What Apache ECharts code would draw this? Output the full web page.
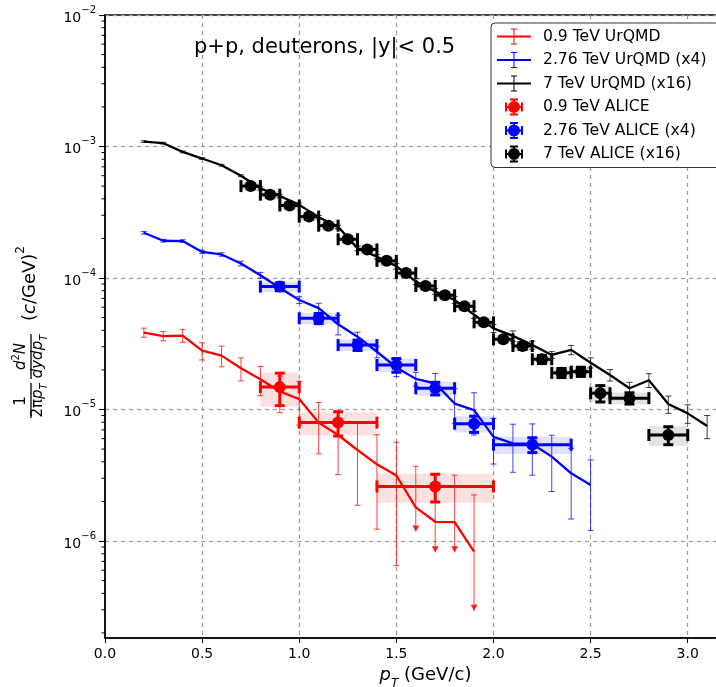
<!DOCTYPE html>
<html><head><meta charset="utf-8">
<script src="https://cdn.jsdelivr.net/npm/echarts@6/dist/echarts.min.js"></script>
<style>html,body{margin:0;padding:0;background:#fff}#c{width:716px;height:687px}</style>
</head><body><div id="c"></div><script>
const FONT = 'DejaVu Sans';

// ---------- UrQMD (0.9 TeV) ----------
const red_urqmd_x = [0.2,0.3,0.4,0.5,0.6,0.7,0.8,0.9,1.0,1.1,1.2,1.3,1.4,1.5,1.6,1.7,1.8,1.9];
const red_urqmd_y = [3.85e-5,3.62e-5,3.65e-5,2.8e-5,2.57e-5,2.06e-5,1.7e-5,1.37e-5,1.2e-5,7.95e-6,6.4e-6,4.92e-6,3.83e-6,3.15e-6,1.8e-6,1.4e-6,1.39e-6,8.3e-7];
const red_urqmd_err = [3.1e-6,2.9e-6,4.0e-6,4.2e-6,4.6e-6,4.1e-6,4.25e-6,4.25e-6,4.4e-6,3.35e-6,3.2e-6,3.05e-6,2.6e-6,2.5e-6,1.9e-6,1.76e-6,1.78e-6,1.41e-6];
const red_urqmd_limit = [null,null,null,null,null,null,null,null,null,null,null,null,null,null,1.18e-6,8.2e-7,8.2e-7,2.95e-7];

// ---------- UrQMD (2.76 TeV, x4) ----------
const blue_urqmd_x = [0.2,0.3,0.4,0.5,0.6,0.7,0.8,0.9,1.0,1.1,1.2,1.3,1.4,1.5,1.6,1.7,1.8,1.9,2.0,2.1,2.2,2.3,2.4,2.5];
const blue_urqmd_y = [2.21e-4,1.92e-4,1.91e-4,1.58e-4,1.51e-4,1.29e-4,1.05e-4,8.4e-5,6.8e-5,5.9e-5,4.45e-5,3.58e-5,2.75e-5,2.09e-5,1.71e-5,1.58e-5,1.11e-5,9.9e-6,6.2e-6,5.53e-6,5.47e-6,4.38e-6,3.27e-6,2.67e-6];
const blue_urqmd_err = [5.0e-6,4.5e-6,4.5e-6,4.7e-6,4.5e-6,5.2e-6,5.3e-6,5.0e-6,4.1e-6,5.3e-6,7.6e-6,2.9e-6,2.75e-6,3.1e-6,2.05e-6,3.0e-6,3.3e-6,3.5e-6,2.35e-6,2.2e-6,2.3e-6,2.0e-6,1.8e-6,1.47e-6];

// ---------- UrQMD (7 TeV, x16) ----------
const black_urqmd_x = [0.2,0.3,0.4,0.5,0.6,0.7,0.8,0.9,1.0,1.1,1.2,1.3,1.4,1.5,1.6,1.7,1.8,1.9,2.0,2.1,2.2,2.3,2.4,2.5,2.6,2.7,2.8,2.9,3.0,3.1];
const black_urqmd_y = [1.09e-3,1.06e-3,9.1e-4,8.1e-4,7.2e-4,6.0e-4,4.8e-4,4.2e-4,3.6e-4,2.9e-4,2.45e-4,1.68e-4,1.45e-4,1.23e-4,9.4e-5,7.9e-5,6.8e-5,5.25e-5,4.14e-5,3.63e-5,3.09e-5,2.6e-5,2.84e-5,2.27e-5,1.83e-5,1.45e-5,1.67e-5,1.1e-5,9.35e-6,7.5e-6];
const black_urqmd_err = [1.6e-5,1.6e-5,1.4e-5,1.2e-5,1.1e-5,9e-6,1.45e-5,1.25e-5,1.1e-5,8.7e-6,7.4e-6,6.7e-6,5.8e-6,6.2e-6,4.7e-6,4.0e-6,4.1e-6,3.15e-6,2.9e-6,3.3e-6,2.2e-6,1.56e-6,2.3e-6,2.0e-6,1.83e-6,1.6e-6,2.0e-6,1.65e-6,1.5e-6,1.5e-6];

// ---------- ALICE ----------
const red_alice_x = [0.9,1.2,1.7];
const red_alice_xerr = [0.1,0.2,0.3];
const red_alice_y = [1.48e-5,7.95e-6,2.6e-6];
const red_alice_stat = [4.1e-6,1.67e-6,6.2e-7];
const red_alice_sys = [4.3e-6,1.6e-6,6.5e-7];

const blue_alice_x = [0.9,1.1,1.3,1.5,1.7,1.9,2.2];
const blue_alice_xerr = [0.1,0.1,0.1,0.1,0.1,0.1,0.2];
const blue_alice_y = [8.6e-5,4.94e-5,3.09e-5,2.18e-5,1.45e-5,7.8e-6,5.4e-6];
const blue_alice_stat = [6.0e-6,4.4e-6,2.8e-6,2.6e-6,1.6e-6,1.1e-6,7.0e-7];
const blue_alice_sys = [7.7e-6,4.9e-6,3.1e-6,2.6e-6,1.75e-6,1.1e-6,8.1e-7];

const black_alice_x = [0.75,0.85,0.95,1.05,1.15,1.25,1.35,1.45,1.55,1.65,1.75,1.85,1.95,2.05,2.15,2.25,2.35,2.45,2.55,2.7,2.9];
const black_alice_xerr = [0.05,0.05,0.05,0.05,0.05,0.05,0.05,0.05,0.05,0.05,0.05,0.05,0.05,0.05,0.05,0.05,0.05,0.05,0.05,0.1,0.1];
const black_alice_y = [5.0e-4,4.3e-4,3.56e-4,2.93e-4,2.5e-4,1.97e-4,1.65e-4,1.35e-4,1.09e-4,8.7e-5,7.4e-5,6.1e-5,4.6e-5,3.42e-5,3.04e-5,2.41e-5,1.9e-5,1.94e-5,1.33e-5,1.22e-5,6.4e-6];
const black_alice_stat = [2.0e-5,1.7e-5,1.4e-5,1.2e-5,1.0e-5,8e-6,6.6e-6,5.4e-6,4.4e-6,3.5e-6,3.0e-6,2.4e-6,1.8e-6,1.4e-6,1.8e-6,1.7e-6,1.5e-6,1.55e-6,1.9e-6,1.2e-6,1.0e-6];
const black_alice_sys = [4.0e-5,3.4e-5,2.8e-5,2.3e-5,2.0e-5,1.6e-5,1.3e-5,1.1e-5,8.7e-6,7.0e-6,5.9e-6,4.9e-6,3.7e-6,2.7e-6,2.4e-6,1.9e-6,1.9e-6,1.9e-6,1.9e-6,1.25e-6,1.1e-6];

// axis decoration
const y_minor_ticks = [2e-7,3e-7,4e-7,5e-7,6e-7,7e-7,8e-7,9e-7,
  2e-6,3e-6,4e-6,5e-6,6e-6,7e-6,8e-6,9e-6,
  2e-5,3e-5,4e-5,5e-5,6e-5,7e-5,8e-5,9e-5,
  2e-4,3e-4,4e-4,5e-4,6e-4,7e-4,8e-4,9e-4,
  2e-3,3e-3,4e-3,5e-3,6e-3,7e-3,8e-3,9e-3];

const names = {
  ru: '0.9 TeV UrQMD', bu: '2.76 TeV UrQMD (x4)', ku: '7 TeV UrQMD (x16)',
  ra: '0.9 TeV ALICE', ba: '2.76 TeV ALICE (x4)', ka: '7 TeV ALICE (x16)'
};
const RED = '#ff0000', BLUE = '#0000ff', BLACK = '#000000';

function pairs(xs, ys) { return xs.map((x, i) => [x, ys[i]]); }
function errTable(xs, ys, es, lim) { return xs.map((x, i) => [x, ys[i], es[i], (lim && lim[i] != null) ? lim[i] : ys[i]]); }
function aliceTable(xs, ys, xe, st, sy) { return xs.map((x, i) => [x, ys[i], xe[i], st[i], sy[i]]); }

function urqmdErrRender(color) {
  return function (params, api) {
    const x = api.value(0), y = api.value(1), e = api.value(2), lim = api.value(3);
    const arrow = !(y - e > 0);
    const top = api.coord([x, y + e]);
    const bot = api.coord([x, arrow ? lim : y - e]);
    const st = { stroke: color, lineWidth: 1, opacity: 0.75 };
    const ch = [
      { type: 'line', shape: { x1: top[0], y1: top[1], x2: bot[0], y2: bot[1] }, style: st },
      { type: 'line', shape: { x1: top[0] - 3, y1: top[1], x2: top[0] + 3, y2: top[1] }, style: st }
    ];
    if (arrow) {
      ch.push({ type: 'polygon', shape: { points: [[bot[0] - 3.5, bot[1] - 6], [bot[0] + 3.5, bot[1] - 6], [bot[0], bot[1]]] }, style: { fill: color, opacity: 0.85 } });
    } else {
      ch.push({ type: 'line', shape: { x1: bot[0] - 3, y1: bot[1], x2: bot[0] + 3, y2: bot[1] }, style: st });
    }
    return { type: 'group', children: ch };
  };
}
function aliceBoxRender(fill) {
  return function (params, api) {
    const x = api.value(0), y = api.value(1), xe = api.value(2), sy = api.value(4);
    const p1 = api.coord([x - xe, y + sy]);
    const p2 = api.coord([x + xe, y - sy]);
    return { type: 'rect', shape: { x: p1[0], y: p1[1], width: p2[0] - p1[0], height: p2[1] - p1[1] }, style: { fill: fill } };
  };
}
function aliceRender(color) {
  return function (params, api) {
    const x = api.value(0), y = api.value(1), xe = api.value(2), se = api.value(3);
    const c = api.coord([x, y]);
    const l = api.coord([x - xe, y]), r = api.coord([x + xe, y]);
    const t = api.coord([x, y + se]), b = api.coord([x, y - se]);
    const st = { stroke: color, lineWidth: 3 };
    return { type: 'group', children: [
      { type: 'line', shape: { x1: l[0], y1: l[1], x2: r[0], y2: r[1] }, style: st },
      { type: 'line', shape: { x1: l[0], y1: l[1] - 6, x2: l[0], y2: l[1] + 6 }, style: st },
      { type: 'line', shape: { x1: r[0], y1: r[1] - 6, x2: r[0], y2: r[1] + 6 }, style: st },
      { type: 'line', shape: { x1: t[0], y1: t[1], x2: b[0], y2: b[1] }, style: st },
      { type: 'line', shape: { x1: t[0] - 5, y1: t[1], x2: t[0] + 5, y2: t[1] }, style: st },
      { type: 'line', shape: { x1: b[0] - 5, y1: b[1], x2: b[0] + 5, y2: b[1] }, style: st },
      { type: 'circle', shape: { cx: c[0], cy: c[1], r: 6 }, style: { fill: color } }
    ] };
  };
}

const DOTS = 'M0,0 L0.02,0 L0.02,0.02 Z M41,17 L41.02,17 L41.02,17.02 Z ';
const ICON_URQMD = 'path://' + DOTS + 'M0,7.4 L34,7.4 L34,9.6 L0,9.6 Z M16.5,1 L17.5,1 L17.5,16 L16.5,16 Z M14,0.5 L20,0.5 L20,1.5 L14,1.5 Z M14,15.5 L20,15.5 L20,16.5 L14,16.5 Z';
const ICON_ALICE = 'path://' + DOTS + 'M11,8.5 A6,6 0 1,1 23,8.5 A6,6 0 1,1 11,8.5 Z M16,0 L18,0 L18,17 L16,17 Z M8,7.5 L26,7.5 L26,9.5 L8,9.5 Z M13,0 L21,0 L21,2 L13,2 Z M13,15 L21,15 L21,17 L13,17 Z M8,4 L10,4 L10,13 L8,13 Z M24,4 L26,4 L26,13 L24,13 Z';

const gridLine = { show: true, lineStyle: { color: '#9a9a9a', width: 1.2, type: [4, 4] } };

function urqmdLine(name, xs, ys, color) {
  return { name: name, type: 'line', data: pairs(xs, ys), showSymbol: false, symbol: 'none', z: 4,
    lineStyle: { color: color, width: 2.3 }, itemStyle: { color: color }, silent: true };
}
function urqmdErr(name, xs, ys, es, lim, color) {
  return { name: name, type: 'custom', data: errTable(xs, ys, es, lim), renderItem: urqmdErrRender(color),
    encode: { x: 0, y: 1 }, itemStyle: { color: color }, z: 3, clip: false, silent: true };
}
function aliceBox(name, xs, ys, xe, st, sy, fill, color) {
  return { name: name, type: 'custom', data: aliceTable(xs, ys, xe, st, sy), renderItem: aliceBoxRender(fill),
    encode: { x: 0, y: 1 }, itemStyle: { color: color }, z: 2, silent: true };
}
function alice(name, xs, ys, xe, st, sy, color) {
  return { name: name, type: 'custom', data: aliceTable(xs, ys, xe, st, sy), renderItem: aliceRender(color),
    encode: { x: 0, y: 1 }, itemStyle: { color: color }, z: 5, clip: false, silent: true };
}

const chart = echarts.init(document.getElementById('c'), null, { renderer: 'canvas' });
chart.setOption({
  animation: false,
  backgroundColor: '#fff',
  textStyle: { fontFamily: FONT },
  grid: { left: 105, top: 15, right: -30, bottom: 49, show: true, borderColor: '#000', borderWidth: 1.3, containLabel: false, outerBoundsMode: 'none' },
  xAxis: {
    type: 'value', min: 0, max: 3.3, interval: 0.5,
    axisLine: { show: true, onZero: false, lineStyle: { color: '#000', width: 1.6 } },
    axisTick: { show: true, inside: false, length: 5, lineStyle: { color: '#000', width: 1 } },
    axisLabel: { margin: 9, fontSize: 14, color: '#000', fontFamily: FONT, formatter: v => v.toFixed(1), showMaxLabel: false },
    splitLine: gridLine,
    name: '{i|p}{s|T}{n| (GeV/c)}', nameLocation: 'middle', nameGap: 24,
    nameTextStyle: { color: '#000', fontFamily: FONT, rich: {
      i: { fontSize: 18, fontStyle: 'italic', fontFamily: FONT, lineHeight: 24, verticalAlign: 'top' },
      s: { fontSize: 12, fontStyle: 'italic', fontFamily: FONT, lineHeight: 14, verticalAlign: 'bottom' },
      n: { fontSize: 18, fontFamily: FONT, lineHeight: 24, verticalAlign: 'top' }
    } }
  },
  yAxis: {
    type: 'log', logBase: 10, min: 1.83e-7, max: 1e-2, splitNumber: 5,
    axisLine: { show: true, lineStyle: { color: '#000', width: 1.6 } },
    axisTick: { show: true, inside: false, length: 6, lineStyle: { color: '#000', width: 1 } },
    minorTick: { show: false },
    axisLabel: {
      showMinLabel: false, margin: 9, color: '#000', fontFamily: FONT,
      formatter: v => { const e = Math.round(Math.log10(v)); return '{b|10}{s|' + (e < 0 ? '\u2212' : '') + Math.abs(e) + '}'; },
      rich: {
        b: { fontSize: 14, fontFamily: FONT, lineHeight: 20, verticalAlign: 'bottom' },
        s: { fontSize: 10, fontFamily: FONT, lineHeight: 12, verticalAlign: 'top' }
      }
    },
    splitLine: gridLine
  },
  legend: {
    orient: 'vertical', left: 491, top: 23, padding: [5, 40, 5, 6], itemGap: 6.5,
    itemWidth: 41, itemHeight: 17, backgroundColor: '#fff', borderColor: '#333', borderWidth: 1, borderRadius: 4,
    selectedMode: false,
    textStyle: { fontSize: 15.6, fontFamily: FONT, color: '#000' },
    data: [
      { name: names.ru, icon: ICON_URQMD },
      { name: names.bu, icon: ICON_URQMD },
      { name: names.ku, icon: ICON_URQMD },
      { name: names.ra, icon: ICON_ALICE },
      { name: names.ba, icon: ICON_ALICE },
      { name: names.ka, icon: ICON_ALICE }
    ]
  },
  graphic: [
    { type: 'text', x: 194, y: 48, z: 10, style: { text: 'p+p, deuterons, |y|< 0.5', fontSize: 21, fontFamily: FONT, fill: '#000', textAlign: 'left', textVerticalAlign: 'middle' } },
    { type: 'group', x: 31, y: 320, rotation: Math.PI / 2, z: 10, children: [
      { type: 'text', x: -81, y: -10, style: { text: '1', fontSize: 15, fontFamily: FONT, fill: '#000', textAlign: 'center', textVerticalAlign: 'middle' } },
      { type: 'line', shape: { x1: -98, y1: 0, x2: -63, y2: 0 }, style: { stroke: '#000', lineWidth: 1.3 } },
      { type: 'text', x: -80.5, y: 9, style: { text: '{n|2\u03c0}{i|p}{s|T}', textAlign: 'center', textVerticalAlign: 'middle', fill: '#000',
        rich: { n: { fontSize: 15, fontFamily: FONT, lineHeight: 18, verticalAlign: 'top' }, i: { fontSize: 15, fontStyle: 'italic', fontFamily: FONT, lineHeight: 18, verticalAlign: 'top' }, s: { fontSize: 10, fontStyle: 'italic', fontFamily: FONT, lineHeight: 11, verticalAlign: 'bottom' } } } },
      { type: 'line', shape: { x1: -59, y1: 0, x2: -14, y2: 0 }, style: { stroke: '#000', lineWidth: 1.3 } },
      { type: 'text', x: -36.5, y: -11, style: { text: '{i|d}{p|2}{i|N}', textAlign: 'center', textVerticalAlign: 'middle', fill: '#000',
        rich: { i: { fontSize: 15, fontStyle: 'italic', fontFamily: FONT, lineHeight: 18, verticalAlign: 'bottom' }, p: { fontSize: 10, fontFamily: FONT, lineHeight: 11, verticalAlign: 'top' } } } },
      { type: 'text', x: -36.5, y: 9, style: { text: '{i|dydp}{s|T}', textAlign: 'center', textVerticalAlign: 'middle', fill: '#000',
        rich: { i: { fontSize: 15, fontStyle: 'italic', fontFamily: FONT, lineHeight: 18, verticalAlign: 'top' }, s: { fontSize: 10, fontStyle: 'italic', fontFamily: FONT, lineHeight: 11, verticalAlign: 'bottom' } } } },
      { type: 'text', x: -1, y: -4, style: { text: '{n|(}{i|c}{n|/GeV)}{p|2}', textAlign: 'left', textVerticalAlign: 'middle', fill: '#000',
        rich: { n: { fontSize: 18, fontFamily: FONT, lineHeight: 24, verticalAlign: 'bottom' }, i: { fontSize: 18, fontStyle: 'italic', fontFamily: FONT, lineHeight: 24, verticalAlign: 'bottom' }, p: { fontSize: 12, fontFamily: FONT, lineHeight: 14, verticalAlign: 'top' } } } }
    ] }
  ],
  series: [
    aliceBox(names.ra, red_alice_x, red_alice_y, red_alice_xerr, red_alice_stat, red_alice_sys, 'rgba(240,0,0,0.12)', RED),
    aliceBox(names.ba, blue_alice_x, blue_alice_y, blue_alice_xerr, blue_alice_stat, blue_alice_sys, 'rgba(0,0,255,0.12)', BLUE),
    aliceBox(names.ka, black_alice_x, black_alice_y, black_alice_xerr, black_alice_stat, black_alice_sys, 'rgba(0,0,0,0.11)', BLACK),
    urqmdLine(names.ru, red_urqmd_x, red_urqmd_y, RED),
    urqmdLine(names.bu, blue_urqmd_x, blue_urqmd_y, BLUE),
    urqmdLine(names.ku, black_urqmd_x, black_urqmd_y, BLACK),
    urqmdErr(names.ru, red_urqmd_x, red_urqmd_y, red_urqmd_err, red_urqmd_limit, RED),
    urqmdErr(names.bu, blue_urqmd_x, blue_urqmd_y, blue_urqmd_err, null, BLUE),
    urqmdErr(names.ku, black_urqmd_x, black_urqmd_y, black_urqmd_err, null, BLACK),
    alice(names.ra, red_alice_x, red_alice_y, red_alice_xerr, red_alice_stat, red_alice_sys, RED),
    alice(names.ba, blue_alice_x, blue_alice_y, blue_alice_xerr, blue_alice_stat, blue_alice_sys, BLUE),
    alice(names.ka, black_alice_x, black_alice_y, black_alice_xerr, black_alice_stat, black_alice_sys, BLACK),
    { type: 'custom', name: 'minor', data: y_minor_ticks.map(v => [0, v]), encode: { x: 0, y: 1 }, clip: false, silent: true, z: 6,
      renderItem: (p, api) => { const c = api.coord([api.value(0), api.value(1)]); return { type: 'line', shape: { x1: c[0] - 3.5, y1: c[1], x2: c[0], y2: c[1] }, style: { stroke: '#000', lineWidth: 1 } }; } }
  ]
});
</script></body></html>
